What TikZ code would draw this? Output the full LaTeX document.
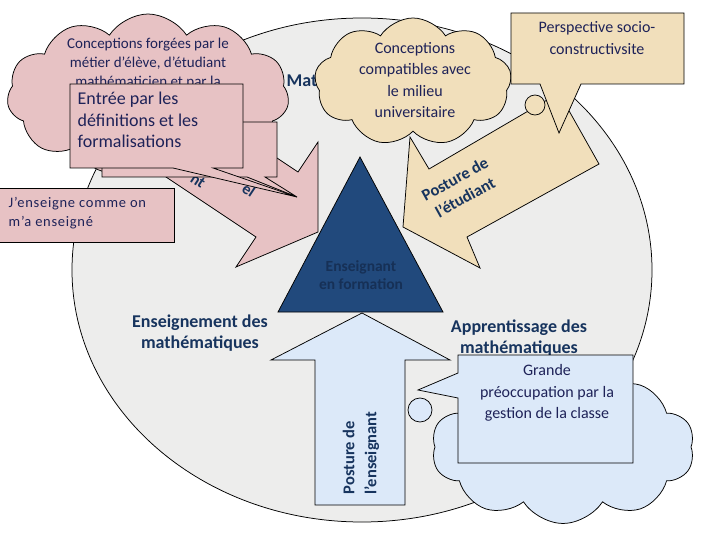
\documentclass[tikz,border=0pt]{standalone}
\usepackage{fontspec}
\setmainfont{Carlito}
\usetikzlibrary{shapes.symbols}
\definecolor{grisfond}{RGB}{237,237,236}
\definecolor{rosefond}{RGB}{231,194,196}
\definecolor{beigefond}{RGB}{241,223,187}
\definecolor{bleufond}{RGB}{220,233,249}
\definecolor{marine}{RGB}{33,73,124}
\definecolor{encre}{RGB}{23,52,94}
\definecolor{encretri}{RGB}{22,48,86}
\definecolor{encrecall}{RGB}{30,34,88}

\begin{document}
\begin{tikzpicture}[x=1pt, y=-1pt, line width=0.75pt]
\tikzset{
    NUAGE/.style={cloud, draw=black, inner sep=0pt, cloud puffs=11,
                  cloud puff arc=115},
    BOITE/.style={draw=black},
    FLECHE/.style={draw=black},
    LBL/.style={font=\fontsize{18}{21.5}\selectfont\bfseries, text=encre, align=center},
    FLBL/.style={font=\fontsize{16}{20}\selectfont\bfseries, text=encre, align=center},
    TXT/.style={font=\fontsize{16}{21.5}\selectfont, text=encrecall, align=center},
}
\useasboundingbox (0,0) rectangle (720,540);

% Grand disque
\filldraw[draw=black, fill=grisfond] (362,270) ellipse [x radius=290, y radius=252];

%── Flèche rose (vers le triangle) ─────────────────────────────
\filldraw[FLECHE, fill=rosefond] (190,100) -- (298,172) -- (318,142) -- (318,232)
    -- (236,267) -- (256,237) -- (148,165) -- cycle;
\node[FLBL, rotate=-33.5] (frag1) at (198,181) {nt};
\node[FLBL, rotate=-33.5] (frag2) at (249,190) {el};

%── Nuage rose ─────────────────────────────────────────────────
\node[LBL, anchor=west] (mat) at (283,81) {Mat};
\node[NUAGE, fill=rosefond, minimum width=282pt, minimum height=162pt] (nrose) at (148,95) {};
\node[TXT, font=\fontsize{15}{19}\selectfont] (trose) at (148,64)
    {Conceptions forgées par le\\métier d’élève, d’étudiant\\mathématicien et par la};

%── Flèche beige (posture de l'étudiant) ───────────────────────
\filldraw[FLECHE, fill=beigefond] (559,93) -- (599,164) -- (467,237) -- (480,268)
    -- (403,227) -- (410,137) -- (429,169) -- cycle;
\node[FLBL, font=\fontsize{16.5}{21}\selectfont\bfseries, rotate=29] (tetud) at (460,188) {Posture de\\l’étudiant};

%── Nuage beige ────────────────────────────────────────────────
\node[NUAGE, fill=beigefond, cloud puffs=9, minimum width=197pt, minimum height=128pt] (nbeige) at (413,82) {};
\node[TXT] (tbeige) at (415,80) {Conceptions\\compatibles avec\\le milieu\\universitaire};
\filldraw[draw=black, fill=beigefond] (535,105) circle (10);

%── Bulles roses ───────────────────────────────────────────────
\filldraw[BOITE, fill=rosefond] (102,122) -- (277,122) -- (277,177) -- (265,177)
    -- (297,197) -- (247,177) -- (102,177) -- cycle;
\filldraw[BOITE, fill=rosefond] (70,84) -- (243,84) -- (243,168) -- (213,168)
    -- (297,197) -- (173,168) -- (70,168) -- cycle;
\node[TXT, font=\fontsize{18}{21.5}\selectfont, anchor=west, align=left] (tentree) at (74,120)
    {Entrée par les\\définitions et les\\formalisations};

\filldraw[BOITE, fill=rosefond] (-1,188) rectangle (174,242);
\node[TXT, font=\fontsize{14.5}{19}\selectfont\addfontfeature{LetterSpace=5}, anchor=west, align=left] (tjens) at (5,213)
    {J’enseigne comme on\\m’a enseigné};

%── Triangle ───────────────────────────────────────────────────
\filldraw[draw=black, fill=marine] (360,157) -- (443,312) -- (278,312) -- cycle;
\node[FLBL, font=\fontsize{15.5}{18.5}\selectfont\bfseries, text=encretri] (ttri) at (361,275) {Enseignant\\en formation};

%── Bulle « Perspective » ──────────────────────────────────────
\filldraw[BOITE, fill=beigefond] (511,13) -- (684,13) -- (684,84) -- (581,84)
    -- (559,133) -- (540,84) -- (511,84) -- cycle;
\node[TXT] (tpersp) at (597,38) {Perspective socio-\\constructivsite};

%── Flèche bleue (posture de l'enseignant) ─────────────────────
\filldraw[FLECHE, fill=bleufond] (362,313) -- (450,360) -- (405,360) -- (405,505)
    -- (315,505) -- (315,360) -- (271,360) -- cycle;
\node[FLBL, rotate=90, anchor=west, align=left, font=\fontsize{16.5}{22}\selectfont\bfseries] (tens) at (361,498) {Posture de\\l’enseignant};

% Libellés
\node[LBL] (lenseig) at (200,333) {Enseignement des\\mathématiques};
\node[LBL] (lappr) at (519,338) {Apprentissage des\\mathématiques};

%── Nuage bleu ─────────────────────────────────────────────────
\node[NUAGE, fill=bleufond, cloud puffs=10, minimum width=263pt, minimum height=153pt] (nbleu) at (563,447) {};
\filldraw[draw=black, fill=bleufond] (420,410) circle (12);
\filldraw[BOITE, fill=bleufond] (458,355) -- (633,355) -- (633,463) -- (458,463)
    -- (458,398) -- (418,390) -- (458,373) -- cycle;
\node[TXT] (tgrande) at (547,393) {Grande\\préoccupation par la\\gestion de la classe};

\end{tikzpicture}
\end{document}
